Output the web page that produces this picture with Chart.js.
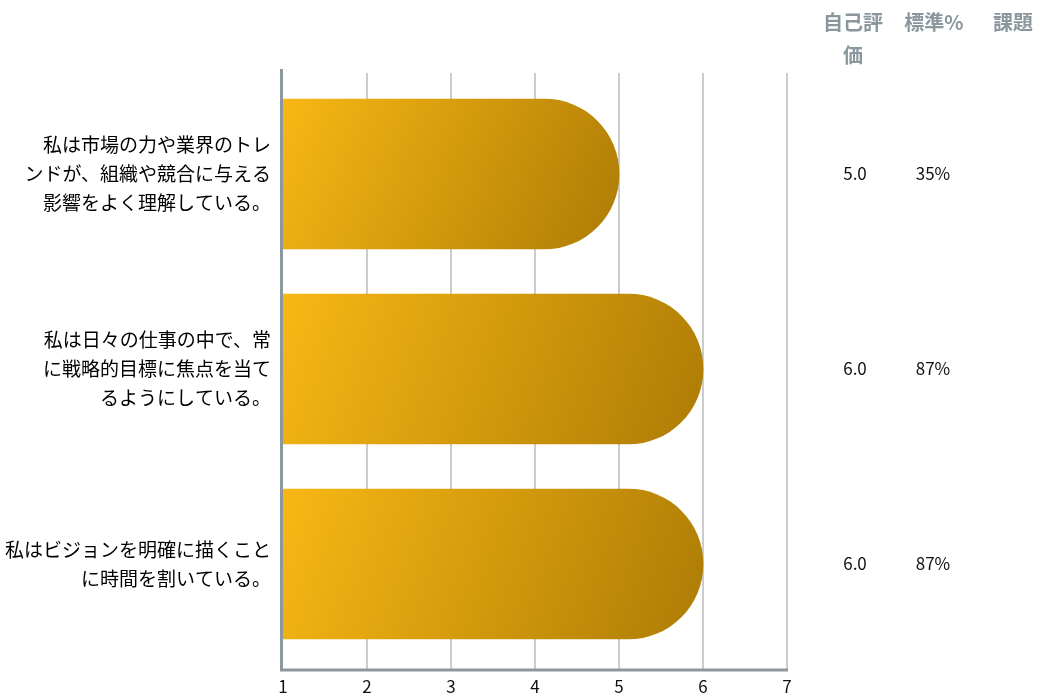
<!DOCTYPE html>
<html lang="ja">
<head>
<meta charset="utf-8">
<title>自己評価</title>
<script src="https://cdn.jsdelivr.net/npm/chart.js@4/dist/chart.umd.min.js"></script>
<style>
  html, body { margin: 0; padding: 0; background: #fff; }
  #wrap { width: 1037px; height: 696px; }
</style>
</head>
<body>
<div id="wrap"><canvas id="chart"></canvas></div>
<script>
// 設問ラベル（改行済み）
const questions = [
  ['私は市場の力や業界のトレ', 'ンドが、組織や競合に与える', '影響をよく理解している。'],
  ['私は日々の仕事の中で、常', 'に戦略的目標に焦点を当て', 'るようにしている。'],
  ['私はビジョンを明確に描くこと', 'に時間を割いている。']
];
const scores = [5, 6, 6];
const standardPct = [35, 87, 87];
const issues = ['', '', ''];
const xTicks = [1, 2, 3, 4, 5, 6, 7];
const tableHeaders = [['自己評', '価'], ['標準%'], ['課題']];

const FONT = '"Noto Sans CJK JP", "Noto Sans", sans-serif';

function barGradient(ctx) {
  const chart = ctx.chart;
  const area = chart.chartArea;
  if (!area || ctx.dataIndex === undefined) return '#e0a00e';
  const x = chart.scales.x, y = chart.scales.y;
  const x0 = x.getPixelForValue(x.min);
  const x1 = x.getPixelForValue(ctx.raw);
  const yc = y.getPixelForValue(ctx.dataIndex);
  const g = chart.ctx.createLinearGradient(x0, yc - 75, x1, yc + 75);
  g.addColorStop(0, '#f8b714');
  g.addColorStop(1, '#ad7c05');
  return g;
}

// グリッド線と軸線（描画領域より少し長く引く）
const framePlugin = {
  id: 'frame',
  beforeDatasetsDraw(chart) {
    const { ctx, chartArea: a, scales: { x } } = chart;
    ctx.save();
    ctx.strokeStyle = '#cccccc';
    ctx.lineWidth = 2;
    xTicks.slice(1).forEach(v => {
      const px = Math.round(x.getPixelForValue(v));
      ctx.beginPath();
      ctx.moveTo(px, a.top - 3.5);
      ctx.lineTo(px, a.bottom + 8.5);
      ctx.stroke();
    });
    ctx.restore();
  },
  afterDatasetsDraw(chart) {
    const { ctx, chartArea: a, scales: { x } } = chart;
    ctx.save();
    ctx.strokeStyle = '#8b999e';
    ctx.lineWidth = 3;
    ctx.beginPath();
    ctx.moveTo(a.left - 1.5, a.top - 7.5);
    ctx.lineTo(a.left - 1.5, a.bottom + 8.5);
    ctx.lineTo(x.getPixelForValue(x.max) + 1, a.bottom + 8.5);
    ctx.stroke();
    ctx.restore();
  }
};

// 右側の表（自己評価・標準%・課題）
const tablePlugin = {
  id: 'table',
  afterDraw(chart) {
    const { ctx, scales: { y } } = chart;
    const cols = [853, 934, 1013];
    ctx.save();
    ctx.textAlign = 'center';
    ctx.textBaseline = 'middle';
    ctx.fillStyle = '#8a979d';
    ctx.font = 'bold 20px ' + FONT;
    tableHeaders.forEach((lines, c) => {
      lines.forEach((t, i) => ctx.fillText(t, cols[c], 22 + i * 33));
    });
    ctx.fillStyle = '#111';
    ctx.font = '17px ' + FONT;
    scores.forEach((s, i) => {
      const py = y.getPixelForValue(i);
      ctx.fillText(s.toFixed(1), cols[0] + 2, py);
      ctx.fillText(standardPct[i] + '%', cols[1] - 1, py);
      ctx.fillText(issues[i], cols[2], py);
    });
    ctx.restore();
  }
};

new Chart(document.getElementById('chart'), {
  type: 'bar',
  data: {
    labels: questions,
    datasets: [{
      data: scores,
      backgroundColor: barGradient,
      borderWidth: 0,
      borderSkipped: false,
      borderRadius: { topLeft: 0, bottomLeft: 0, topRight: 200, bottomRight: 200 },
      barThickness: 150
    }]
  },
  options: {
    indexAxis: 'y',
    responsive: true,
    maintainAspectRatio: false,
    animation: false,
    layout: { padding: { top: 76.5, right: 250, left: 0, bottom: 0 } },
    plugins: { legend: { display: false }, tooltip: { enabled: false } },
    scales: {
      x: {
        min: 1,
        max: 7,
        afterBuildTicks: s => { s.ticks = xTicks.map(v => ({ value: v })); },
        afterFit: s => { s.height = 34.5; s.paddingLeft = 0; s.paddingRight = 0; },
        grid: { display: false, drawTicks: false },
        border: { display: false },
        ticks: { color: '#111', padding: 15, font: { family: FONT, size: 17 } }
      },
      y: {
        afterFit: s => { s.width = 283; s.paddingTop = 0; s.paddingBottom = 0; },
        grid: { display: false, drawTicks: false },
        border: { display: false },
        ticks: {
          color: '#000',
          padding: 12,
          font: { family: FONT, size: 19, lineHeight: 1.53 }
        }
      }
    }
  },
  plugins: [framePlugin, tablePlugin]
});
</script>
</body>
</html>
